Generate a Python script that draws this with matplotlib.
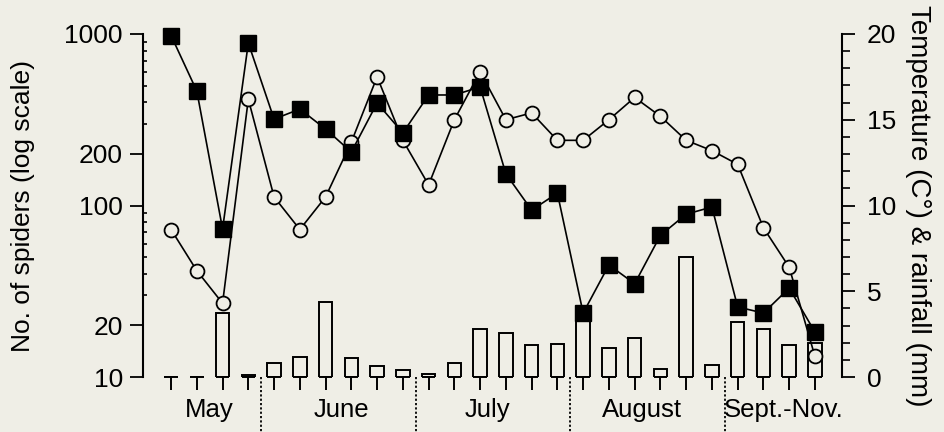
import numpy as np
import matplotlib.pyplot as plt
import matplotlib.transforms as mtransforms
from matplotlib.ticker import FixedLocator, NullFormatter

# samples: 26 collection dates May -> Sept.-Nov.
spiders = [980, 465, 73, 886, 319, 365, 279, 205, 396, 265, 441, 441, 491,
           153, 94, 118, 23.6, 45, 35, 67, 89, 98, 25.6, 23.6, 33, 18.3]
temperature = [8.6, 6.2, 4.3, 16.2, 10.5, 8.6, 10.5, 13.7, 17.5, 13.8, 11.2,
               15.0, 17.8, 15.0, 15.4, 13.8, 13.8, 15.0, 16.3, 15.2, 13.8,
               13.2, 12.4, 8.7, 6.4, 1.2]
rainfall = [0, 0, 3.75, 0.1, 0.8, 1.15, 4.4, 1.1, 0.65, 0.4, 0.15, 0.8, 2.8,
            2.55, 1.85, 1.95, 3.7, 1.7, 2.3, 0.45, 7.0, 0.7, 3.2, 2.8, 1.85,
            2.0]
months = ['May', 'June', 'July', 'August', 'Sept.-Nov.']
month_pos = [1.5, 6.6, 12.3, 18.3, 23.8]
dividers = [3.5, 9.5, 15.5, 21.5]

plt.rcParams['font.family'] = ['Liberation Sans', 'DejaVu Sans']
bg = '#efeee6'

x = np.arange(len(spiders))

fig = plt.figure(figsize=(9.45, 4.32), dpi=100, facecolor=bg)
ax2 = fig.add_axes([0.1513, 0.1273, 0.7397, 0.794])   # temperature & rainfall
ax = ax2.twinx()                                         # spiders, drawn on top
ax.set_zorder(ax2.get_zorder() + 1)
ax.patch.set_visible(False)
ax2.set_facecolor(bg)

# swap sides: spiders on the left, temperature on the right
ax.yaxis.tick_left()
ax.yaxis.set_label_position('left')
ax2.yaxis.tick_right()
ax2.yaxis.set_label_position('right')

# rainfall bars, each with a "T" base
bw = 0.52
ax2.bar(x, rainfall, width=bw, facecolor=bg, edgecolor='k', linewidth=1.4)
ax2.hlines(np.zeros(len(x)), x - bw / 2, x + bw / 2, colors='k', lw=1.4,
           clip_on=False)
# temperature
ax2.plot(x, temperature, c='k', lw=1.2, marker='o', ms=10, mfc=bg, mec='k',
         mew=1.3, clip_on=False)
# spiders
ax.plot(x, spiders, c='k', lw=1.2, marker='s', ms=11, mfc='k', mec='k',
        clip_on=False)

ax.set_yscale('log')
ax.set_ylim(10, 1000)
ax2.set_ylim(0, 20)
ax2.set_xlim(-1.09, 26.05)

ax.yaxis.set_major_locator(FixedLocator([10, 20, 100, 200, 1000]))
ax.set_yticklabels(['10', '20', '100', '200', '1000'])
ax.yaxis.set_minor_locator(FixedLocator([30, 40, 50, 60, 70, 80, 90,
                                         300, 400, 500, 600, 700, 800, 900]))
ax.yaxis.set_minor_formatter(NullFormatter())
ax.tick_params(axis='y', which='major', direction='out', length=9.5,
               width=1.3, labelsize=19, pad=5)
ax.tick_params(axis='y', which='minor', direction='in', length=3, width=1.2)

ax2.set_yticks([0, 5, 10, 15, 20])
ax2.set_yticks(np.arange(0, 21, 1), minor=True)
ax2.tick_params(axis='y', which='major', direction='out', length=9,
                width=1.3, labelsize=19, pad=9)
ax2.tick_params(axis='y', which='minor', direction='out', length=6, width=1.2)

# stems under each sample
ax2.set_xticks(x)
ax2.set_xticklabels([])
ax2.tick_params(axis='x', direction='out', length=9.5, width=1.4)
ax.tick_params(axis='x', bottom=False, labelbottom=False)

for a in (ax, ax2):
    a.spines['top'].set_visible(False)
    a.spines['bottom'].set_visible(False)
    a.spines['left'].set_linewidth(1.5)
    a.spines['right'].set_linewidth(1.5)
ax.spines['right'].set_visible(False)
ax2.spines['left'].set_visible(False)

ax.set_ylabel('No. of spiders (log scale)', fontsize=19)
ax.yaxis.set_label_coords(-0.155, 0.5)
ax2.set_ylabel('Temperature (C\u00b0) & rainfall (mm)', fontsize=20,
               rotation=270)
ax2.yaxis.set_label_coords(1.128, 0.5)

# month labels and dotted dividers below the axis
trans = mtransforms.blended_transform_factory(ax2.transData, ax2.transAxes)
for m, p in zip(months, month_pos):
    ax2.text(p, -0.096, m, transform=trans, ha='center', va='center',
             fontsize=18.5)
for d in dividers:
    ax2.plot([d, d], [0, -0.17], transform=trans, c='k', lw=1.3,
             ls=(0, (1.2, 1.2)), clip_on=False)

fig.savefig('out.png', dpi=100, facecolor=bg)
